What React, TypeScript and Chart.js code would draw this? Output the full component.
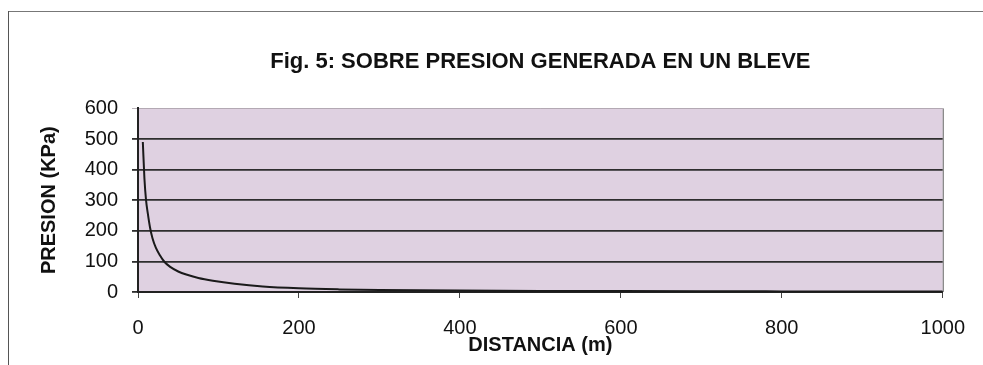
import React, { useEffect, useRef } from "react";
import { Chart, registerables } from "chart.js";

Chart.register(...registerables);

const chartTitle = "Fig. 5: SOBRE PRESION GENERADA EN UN BLEVE";
const xTitle = "DISTANCIA (m)";
const yTitle = "PRESION (KPa)";

const distances = [6, 8, 10, 12, 15, 18, 22, 27, 33, 40, 50, 60, 75, 93, 120, 155, 200, 250, 300, 400, 500, 600, 700, 800, 900, 1000];
const pressures = [490, 370, 300, 260, 210, 176, 146, 121, 98, 82, 67, 57, 46, 37, 27, 18, 12, 8.5, 6.5, 4.5, 3.5, 3, 2.5, 2, 1.8, 1.5];

const xTicks = [0, 200, 400, 600, 800, 1000];
const yTicks = [0, 100, 200, 300, 400, 500, 600];

const FONT = "'Liberation Sans', Arial, sans-serif";

const plotBg = {
  id: "plotBg",
  beforeDraw(chart: any) {
    const { ctx, chartArea } = chart;
    ctx.save();
    ctx.fillStyle = "rgb(223,209,225)";
    ctx.fillRect(chartArea.left, chartArea.top, chartArea.right - chartArea.left, chartArea.bottom - chartArea.top);
    ctx.restore();
  },
  afterDraw(chart: any) {
    const { ctx, chartArea } = chart;
    ctx.save();
    ctx.strokeStyle = "#666";
    ctx.lineWidth = 1;
    ctx.beginPath();
    ctx.moveTo(chartArea.right + 0.5, chartArea.top);
    ctx.lineTo(chartArea.right + 0.5, chartArea.bottom);
    ctx.stroke();
    ctx.restore();
  },
};

export default function App() {
  const ref = useRef<HTMLCanvasElement>(null);

  useEffect(() => {
    if (!ref.current) return;
    const chart = new Chart(ref.current, {
      type: "line",
      data: {
        datasets: [
          {
            data: distances.map((d, i) => ({ x: d, y: pressures[i] })),
            borderColor: "#1a1a1a",
            borderWidth: 2,
            pointRadius: 0,
            cubicInterpolationMode: "monotone",
          },
        ],
      },
      plugins: [plotBg],
      options: {
        animation: false,
        responsive: false,
        maintainAspectRatio: false,
        layout: { padding: { left: 0, right: 38, top: 0, bottom: 0 } },
        plugins: {
          legend: { display: false },
          tooltip: { enabled: false },
          title: {
            display: true,
            text: chartTitle,
            fullSize: false,
            color: "#111",
            font: { family: FONT, size: 22, weight: "bold" },
            padding: { top: 49, bottom: 33 },
          },
        },
        scales: {
          x: {
            type: "linear",
            min: 0,
            max: 1000,
            afterBuildTicks(scale: any) {
              scale.ticks = xTicks.map((v) => ({ value: v }));
            },
            afterFit(scale: any) {
              scale.height = 73;
            },
            border: { display: true, color: "#222", width: 2 },
            grid: { drawOnChartArea: false, drawTicks: true, tickLength: 6, color: "#444", lineWidth: 1 },
            ticks: {
              color: "#111",
              font: { family: FONT, size: 20 },
              padding: 18,
              maxRotation: 0,
              callback: (v: any) => String(v),
            },
            title: {
              display: true,
              text: xTitle,
              color: "#111",
              font: { family: FONT, size: 20, weight: "bold" },
              padding: { top: 0, bottom: 8 },
            },
          },
          y: {
            type: "linear",
            min: 0,
            max: 600,
            afterBuildTicks(scale: any) {
              scale.ticks = yTicks.map((v) => ({ value: v }));
            },
            afterFit(scale: any) {
              scale.width = 138;
            },
            border: { display: true, color: "#222", width: 2 },
            grid: {
              drawTicks: true,
              tickLength: 6,
              color: (c: any) => (c.tick && c.tick.value === 600 ? "rgba(140,130,140,0.6)" : "#2e2e2e"),
              lineWidth: (c: any) => (c.tick && c.tick.value === 600 ? 1 : 1.8),
            },
            ticks: {
              color: "#111",
              font: { family: FONT, size: 20 },
              padding: 14,
              callback: (v: any) => String(v),
            },
            title: {
              display: true,
              text: yTitle,
              color: "#111",
              font: { family: FONT, size: 20, weight: "bold" },
              padding: { top: 37, bottom: 0 },
            },
          },
        },
      },
    } as any);
    return () => chart.destroy();
  }, []);

  return (
    <div style={{ position: "fixed", left: 0, top: 0, width: 983, height: 365, background: "#fff" }}>
      <canvas ref={ref} width={983} height={365} style={{ position: "absolute", left: 0, top: 0, width: 983, height: 365 }} />
      <div style={{ position: "absolute", left: 8, top: 11, right: 0, height: 0, borderTop: "1.5px solid #777" }} />
      <div style={{ position: "absolute", left: 8, top: 11, bottom: 0, width: 0, borderLeft: "1.5px solid #555" }} />
    </div>
  );
}
